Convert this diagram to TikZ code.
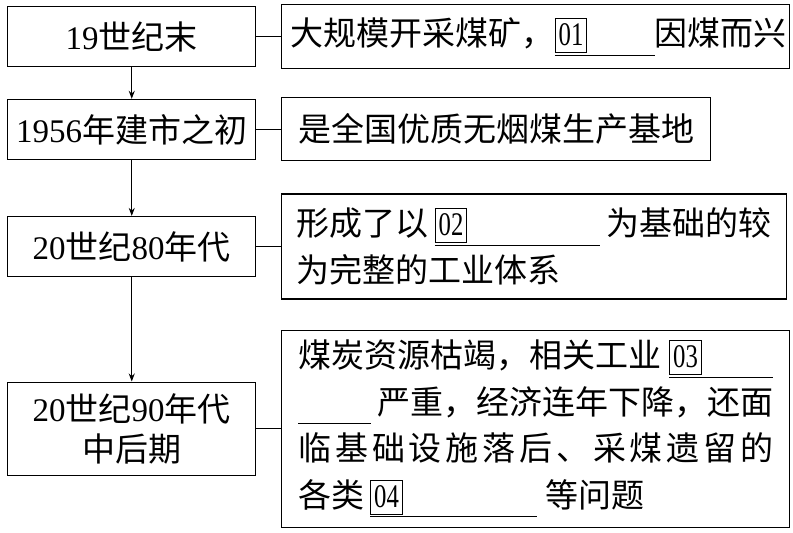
\documentclass[tikz,border=0pt]{standalone}
\usepackage{fontspec}
\setmainfont{Noto Sans CJK SC}
\newfontfamily\latinfont{Liberation Serif}
\usetikzlibrary{matrix,arrows.meta}

\newcommand\lat[1]{{\latinfont #1}}
\newcommand\blankbox[2]{\makebox[#2][l]{\fboxsep=1.5pt\fboxrule=0.9pt\fbox{\rule[-5pt]{0pt}{30pt}\hspace{1.5pt}\latinfont\scalebox{0.75}[1]{#1}\hspace{1.5pt}}}\llap{\rule[-10pt]{#2}{0.9pt}}}
\newcommand\fline[1]{\hbox to 475pt{#1}}

\begin{document}
\begin{tikzpicture}
  \useasboundingbox (-7pt,4pt) rectangle (786pt,-529pt);
  \matrix (m) [matrix of nodes, ampersand replacement=\&, inner sep=0pt, anchor=north west,
          nodes={draw, line width=1.1pt, inner sep=0pt, font=\fontsize{33}{46.5}\selectfont},
          column sep=25pt, row sep=32pt,
          column 1/.style={nodes={anchor=center, minimum width=248pt}},
          column 2/.style={nodes={anchor=west}}] at (0,0) {
    |[minimum height=60pt]| \lat{19}世纪末
      \& |[minimum width=508pt, minimum height=64pt]| \hbox to 490pt{大规模开采煤矿，\blankbox{01}{100pt}\hfil 因煤而兴} \\[-4pt]
    |[minimum height=60pt]| \lat{1956}年建市之初
      \& |[minimum width=429pt, minimum height=63pt]| 是全国优质无烟煤生产基地 \\
    |[minimum height=60pt]| \lat{20}世纪\lat{80}年代
      \& |[minimum width=505pt, minimum height=105pt]| \vbox{\fline{形成了以\hspace{6pt}\blankbox{02}{165pt}\hfil 为基础的较}%
         \fline{为完整的工业体系\hfil}} \\[-2pt]
    |[minimum height=93pt]| \vbox{\baselineskip=40pt\hbox to 248pt{\hfil\lat{20}世纪\lat{90}年代\hfil}\hbox to 248pt{\hfil 中后期\hfil}}
      \& |[minimum width=508pt, minimum height=197pt]| \vbox{\fline{煤炭资源枯竭，相关工业\hfil\blankbox{03}{104pt}}%
         \fline{\rule[-10pt]{73pt}{0.9pt}\hfil 严重，经济连年下降，还面}%
         \fline{临\hfil 基\hfil 础\hfil 设\hfil 施\hfil 落\hfil 后\hfil 、\hfil 采\hfil 煤\hfil 遗\hfil 留\hfil 的}%
         \fline{各类\hspace{6pt}\blankbox{04}{167pt}\hspace{8pt}等问题\hfil}} \\
  };
  % connectors
  \draw[line width=1.1pt] (m-1-1) -- (m-1-2);
  \draw[line width=1.1pt] (m-2-1) -- (m-2-2);
  \draw[line width=1.1pt] (m-3-1) -- (m-3-2);
  \draw[line width=1.1pt] (m-4-1) -- (m-4-2);
  \draw[line width=1.1pt, -{Stealth[length=8pt, width=6pt]}] (m-1-1) -- (m-2-1);
  \draw[line width=1.1pt, -{Stealth[length=8pt, width=6pt]}] (m-2-1) -- (m-3-1);
  \draw[line width=1.1pt, -{Stealth[length=8pt, width=6pt]}] (m-3-1) -- (m-4-1);
\end{tikzpicture}
\end{document}
